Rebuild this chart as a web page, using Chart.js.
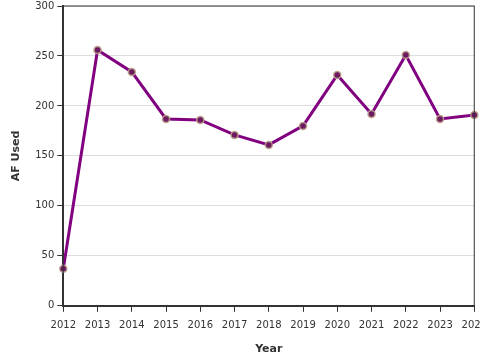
<!DOCTYPE html>
<html>
<head>
<meta charset="utf-8">
<script src="https://cdn.jsdelivr.net/npm/chart.js@4"></script>
<style>
  html, body { margin: 0; padding: 0; overflow: hidden; background: #fff; }
  #wrap { position: relative; width: 495px; height: 363px; margin-top: -3px; }
</style>
</head>
<body>
<div id="wrap"><canvas id="afChart"></canvas></div>
<script>
// water use per year
const years = ['2012', '2013', '2014', '2015', '2016', '2017', '2018', '2019', '2020', '2021', '2022', '2023', '2024'];
const afUsed = [37, 256, 234, 187, 186, 171, 161, 180, 231, 192, 251, 187, 191];
const yTicks = [0, 50, 100, 150, 200, 250, 300];

const axisColor = '#333';
const fontFamily = '"DejaVu Sans", sans-serif';

// thin frame round the plot
const frame = {
    id: 'frame',
    afterDraw(chart) {
        const { ctx, chartArea: a } = chart;
        ctx.save();
        ctx.strokeStyle = axisColor;
        ctx.lineWidth = 1;
        ctx.strokeRect(a.left, a.top, a.right - a.left, a.bottom - a.top);
        ctx.restore();
    }
};

const ctx = document.getElementById('afChart').getContext('2d');
new Chart(ctx, {
    type: 'line',
    data: {
        labels: years,
        datasets: [{
            label: 'AF Used',
            data: afUsed,
            borderColor: '#800080',
            borderWidth: 3,
            backgroundColor: '#6e1a62',
            pointBackgroundColor: '#6e1a62',
            pointBorderColor: 'rgba(185, 160, 135, 0.9)',
            pointBorderWidth: 1.5,
            pointRadius: 3.5,
            tension: 0,
            fill: false
        }]
    },
    options: {
        responsive: true,
        maintainAspectRatio: false,
        animation: false,
        layout: { padding: { left: 6, bottom: 0 } },
        plugins: {
            legend: { display: false },
            tooltip: { enabled: false }
        },
        scales: {
            x: {
                offset: false,
                grid: { drawOnChartArea: false, tickColor: axisColor, tickLength: 6, tickWidth: 1 },
                border: { color: axisColor, width: 2 },
                ticks: { color: axisColor, font: { family: fontFamily, size: 10 }, maxRotation: 0, autoSkip: false, padding: 8 },
                title: { display: true, text: 'Year', color: axisColor, font: { family: fontFamily, size: 11, weight: 'bold' }, padding: { top: 3 } }
            },
            y: {
                min: 0,
                max: 300,
                afterBuildTicks(scale) { scale.ticks = yTicks.map(v => ({ value: v })); },
                grid: { color: '#dddddd', tickColor: axisColor, tickLength: 6, tickWidth: 1 },
                border: { color: axisColor, width: 2 },
                ticks: { color: axisColor, font: { family: fontFamily, size: 10 }, padding: 3 },
                title: { display: true, text: 'AF Used', color: axisColor, font: { family: fontFamily, size: 11, weight: 'bold' }, padding: { bottom: 9 } }
            }
        }
    },
    plugins: [frame]
});
</script>
</body>
</html>
